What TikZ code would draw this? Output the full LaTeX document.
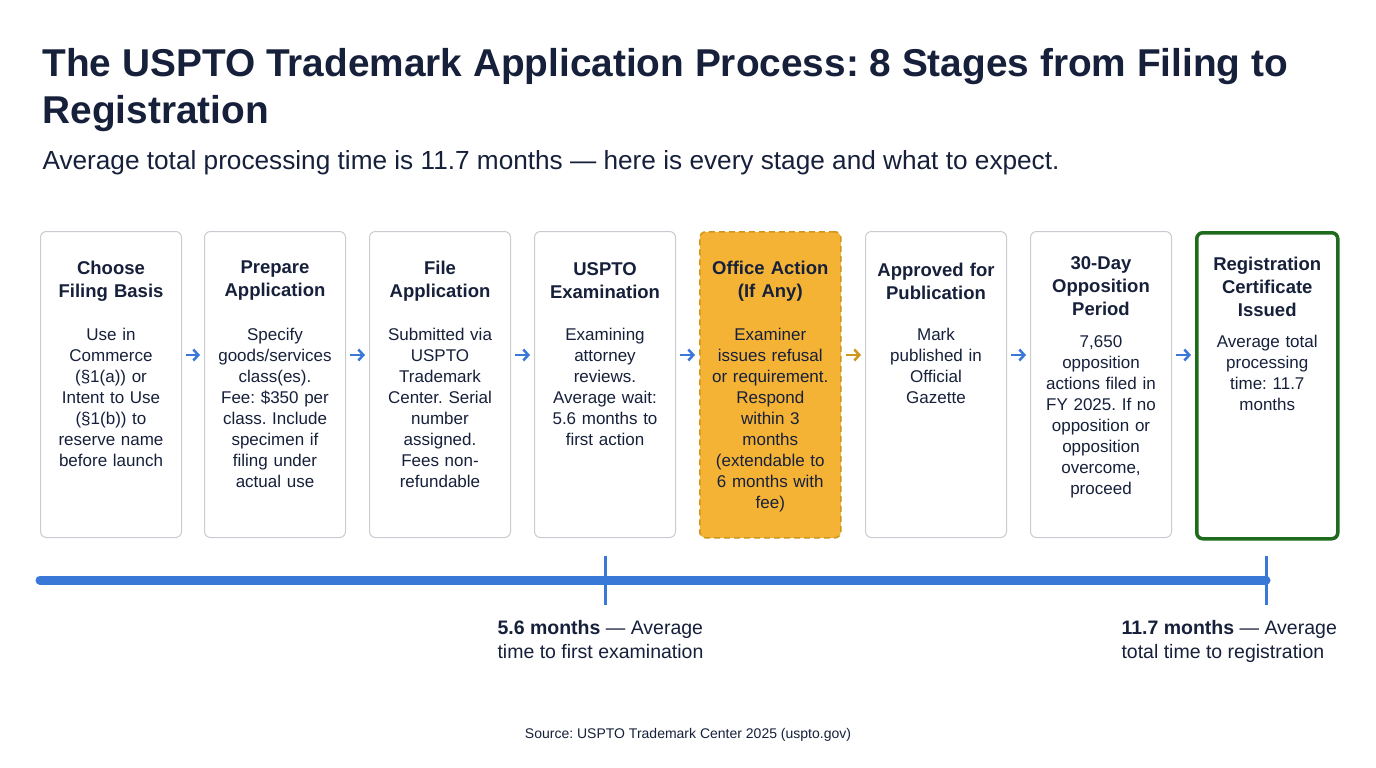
\documentclass[tikz,border=0pt]{standalone}
\usepackage{fontspec}
\setmainfont{Liberation Sans}
\usetikzlibrary{arrows.meta,calc}
\definecolor{navy}{HTML}{16203A}
\definecolor{tblue}{HTML}{3A78D8}
\definecolor{gold}{HTML}{F5B335}
\definecolor{golddk}{HTML}{D0961C}
\definecolor{grn}{HTML}{1E6B1E}
\definecolor{bord}{HTML}{C8CCD2}
\begin{document}
\frenchspacing
\begin{tikzpicture}[x=1pt,y=-1pt,
 box/.style={draw=bord,line width=1pt,rounded corners=6pt,minimum width=141pt,minimum height=306pt,anchor=north west,inner sep=0pt},
 ttl/.style={font=\fontsize{18.5}{23}\selectfont\bfseries,text=navy,align=center,text width=136pt},
 bdy/.style={font=\fontsize{17}{21}\selectfont,text=navy,align=center,text width=136pt,anchor=north},
 arr/.style={-{Straight Barb[length=5pt,width=11pt,line width=2.5pt]},line width=2.8pt,draw=tblue,shorten >=4pt,shorten <=4pt}]
\useasboundingbox (0,0) rectangle (1376,768);
\fill[white] (0,0) rectangle (1376,768);
\node[anchor=west,text=navy,font=\fontsize{38.8}{47}\selectfont\bfseries,align=left] (title) at (39,90) {The USPTO Trademark Application Process: 8 Stages from Filing to\\Registration};
\node[anchor=west,text=navy,font=\fontsize{26.2}{30}\selectfont] (sub) at (39,163) {Average total processing time is 11.7 months — here is every stage and what to expect.};
\node[box] (b1) at (40,231) {};
\node[box] (b2) at (204,231) {};
\node[box] (b3) at (369,231) {};
\node[box] (b4) at (534,231) {};
\node[box,fill=gold,draw=golddk,dash pattern=on 6pt off 4pt,line width=1.6pt] (b5) at (699,231) {};
\node[box] (b6) at (865,231) {};
\node[box] (b7) at (1030,231) {};
\node[box,draw=grn,line width=3.5pt] (b8) at (1195,231) {};
\foreach \i/\t/\y/\by/\b in {
 1/{Choose\\Filing Basis}/281/325/{Use in\\Commerce\\(§1(a)) or\\Intent to Use\\(§1(b)) to\\reserve name\\before launch},
 2/{Prepare\\Application}/281/325/{Specify\\goods/services\\class(es).\\Fee: \$350 per\\class. Include\\specimen if\\filing under\\actual use},
 3/{File\\Application}/281/325/{Submitted via\\USPTO\\Trademark\\Center. Serial\\number\\assigned.\\Fees non-\\refundable},
 4/{USPTO\\Examination}/281/325/{Examining\\attorney\\reviews.\\Average wait:\\5.6 months to\\first action},
 5/{Office Action\\(If Any)}/281/325/{Examiner\\issues refusal\\or requirement.\\Respond\\within 3\\months\\(extendable to\\6 months with\\fee)},
 6/{Approved for\\Publication}/281/325/{Mark\\published in\\Official\\Gazette},
 7/{30-Day\\Opposition\\Period}/286.5/332/{7,650\\opposition\\actions filed in\\FY 2025. If no\\opposition or\\opposition\\overcome,\\proceed},
 8/{Registration\\Certificate\\Issued}/286.5/332/{Average total\\processing\\time: 11.7\\months}}{
 \node[ttl] (t\i) at ($(b\i.north)+(0,\y-231)$) {\t};
 \node[bdy] (d\i) at ($(b\i.north)+(0,\by-231)$) {\b};
}
\foreach \a/\b in {1/2,2/3,3/4,4/5,6/7,7/8}{
 \draw[arr] ([yshift=-124pt]b\a.north east) -- ([yshift=-124pt]b\b.north west);}
\draw[arr,draw=golddk] ([yshift=-124pt]b5.north east) -- ([yshift=-124pt]b6.north west);
\coordinate (l0) at (40,580);
\coordinate (l1) at (1266,580);
\coordinate (m1a) at (605,556); \coordinate (m1b) at (605,605);
\coordinate (m2a) at (1266,556); \coordinate (m2b) at (1266,605);
\draw[tblue,line width=9pt,line cap=round] (l0) -- (l1);
\draw[tblue,line width=3pt] (m1a) -- (m1b);
\draw[tblue,line width=3pt] (m2a) -- (m2b);
\node[anchor=north west,text=navy,font=\fontsize{19.5}{24}\selectfont,align=left] (lab1) at (494,617) {\textbf{5.6 months} — Average\\time to first examination};
\node[anchor=north west,text=navy,font=\fontsize{19.5}{24}\selectfont,align=left] (lab2) at (1118,617) {\textbf{11.7 months} — Average\\total time to registration};
\node[text=navy,font=\fontsize{14}{17}\selectfont] (src) at (688,735) {Source: USPTO Trademark Center 2025 (uspto.gov)};
\end{tikzpicture}
\end{document}
